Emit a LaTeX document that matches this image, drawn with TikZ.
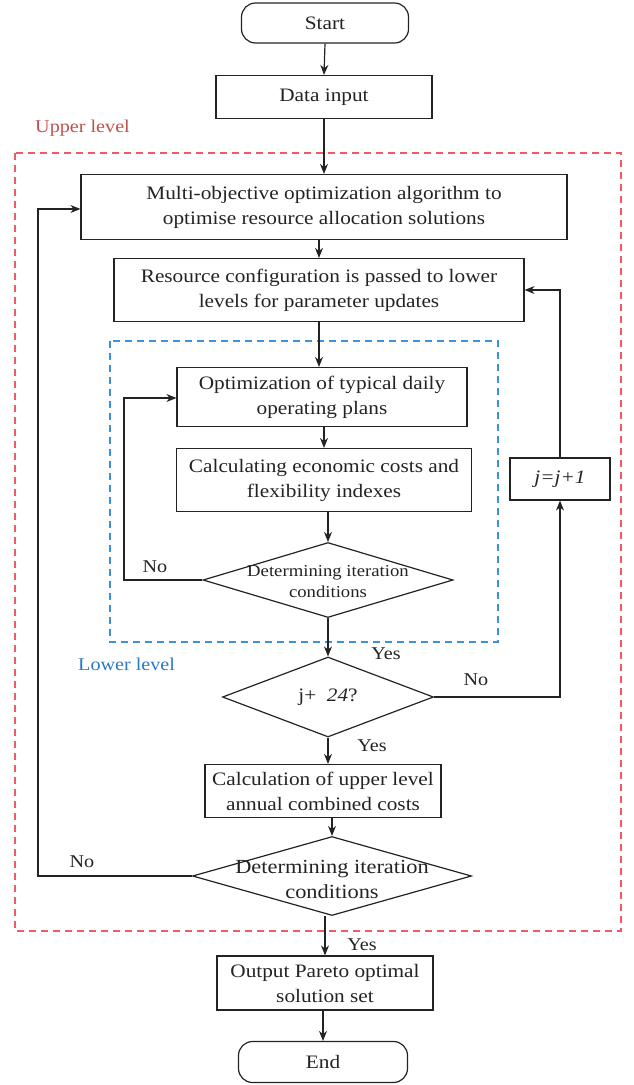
\documentclass[tikz,border=0pt]{standalone}
\usepackage{fontspec}
\setmainfont{Liberation Serif}[FakeStretch=1.12]
\usetikzlibrary{shapes.geometric,arrows.meta}
\definecolor{upred}{RGB}{240,90,100}
\definecolor{uptext}{RGB}{192,80,77}
\definecolor{lowblue}{RGB}{60,145,215}
\definecolor{lowtext}{RGB}{40,120,195}
\definecolor{ink}{RGB}{35,35,35}
\begin{document}
\begin{tikzpicture}[x=1pt,y=-1pt,
  every node/.style={font=\fontsize{19}{25}\selectfont,text=ink},
  box/.style={draw=ink,line width=1.2pt,inner sep=0pt,align=center},
  term/.style={box,rounded corners=14pt},
  dia/.style={draw=ink,line width=1.2pt,diamond,inner sep=0pt},
  arr/.style={draw=ink,line width=1.2pt,-{Stealth[length=10pt,width=8pt]}},
  lbl/.style={inner sep=0pt},
  tag/.style={inner sep=0pt,font=\fontsize{18}{22}\selectfont}]
\useasboundingbox (0,0) rectangle (633,1085);
% frames
\draw[upred,line width=1.1pt,dash pattern=on 7pt off 5pt] (15,153) rectangle (621,931);
\draw[lowblue,line width=1.1pt,dash pattern=on 7pt off 5pt] (110,341) rectangle (498,642);
\node[tag,text=uptext,anchor=west] (ul) at (35,128) {Upper level};
\node[tag,text=lowtext,anchor=west] (ll) at (78,664) {Lower level};
% nodes
\node[term,minimum width=167pt,minimum height=40pt] (start) at (325,23) {Start};
\node[box,minimum width=216pt,minimum height=43pt] (input) at (324,97) {Data input};
\node[box,minimum width=486pt,minimum height=65pt] (moo) at (324,207) {Multi-objective optimization algorithm to\\optimise resource allocation solutions};
\node[box,minimum width=410pt,minimum height=63pt] (res) at (319,290) {Resource configuration is passed to lower\\levels for parameter updates};
\node[box,minimum width=290pt,minimum height=59pt] (opt) at (322,397) {Optimization of typical daily\\operating plans};
\node[box,minimum width=295pt,minimum height=63pt] (calc) at (324,480) {Calculating economic costs and\\flexibility indexes};
\node[dia,minimum width=250pt,minimum height=75pt] (d1) at (328,580) {};
\node[lbl,align=center,font=\fontsize{16.7}{21}\selectfont] at (328,582) {Determining iteration\\conditions};
\node[dia,minimum width=211pt,minimum height=80pt] (d2) at (328,697) {};
\node[lbl] at (328,697) {j+\ \ \textit{24}?};
\node[box,minimum width=100pt,minimum height=42pt] (jinc) at (560,479) {\textit{j=j+1}};
\node[box,minimum width=236pt,minimum height=53pt] (up) at (323,791) {Calculation of upper level\\annual combined costs};
\node[dia,minimum width=279pt,minimum height=79pt] (d3) at (332,876) {};
\node[lbl,align=center,font=\fontsize{20}{25}\selectfont] at (332,879) {Determining iteration\\conditions};
\node[box,minimum width=216pt,minimum height=54pt] (out) at (325,983) {Output Pareto optimal\\solution set};
\node[term,minimum width=169pt,minimum height=41pt] (end) at (323,1062) {End};
% labels
\node[tag] (no1) at (155,567) {No};
\node[tag] (yes1) at (386,654) {Yes};
\node[tag] (no2) at (476,680) {No};
\node[tag] (yes2) at (372,746) {Yes};
\node[tag] (no3) at (82,862) {No};
\node[tag] (yes3) at (362,945) {Yes};
% connectors
\draw[arr] (start.south) -- (input.north);
\draw[arr] (input.south) -- (input.south |- moo.north);
\draw[arr] (moo.south -| res.north) -- (res.north);
\draw[arr] (res.south) -- (res.south |- opt.north);
\draw[arr] (opt.south -| calc.north) -- (calc.north);
\draw[arr] (calc.south -| d1.north) -- (d1.north);
\draw[arr] (d1.south) -- (d2.north);
\draw[arr] (d2.south) -- (d2.south |- up.north);
\draw[arr] (up.south -| d3.north) -- (d3.north);
\draw[arr] (d3.south -| out.north) -- (out.north);
\draw[arr] (out.south -| end.north) -- (end.north);
\draw[arr] (d1.west) -| (124,398) -- (opt.west |- 0,398);
\draw[arr] (d2.east) -| (jinc.south);
\draw[arr] (jinc.north) |- (res.east);
\draw[arr] (d3.west) -| (38,209) -- (moo.west |- 0,209);
\end{tikzpicture}
\end{document}
